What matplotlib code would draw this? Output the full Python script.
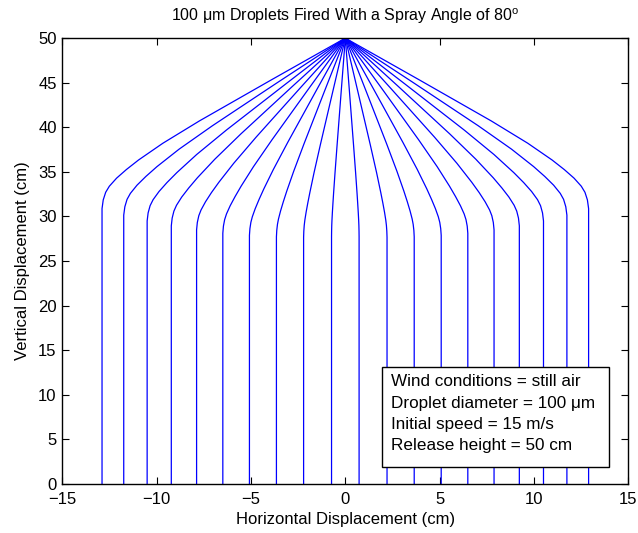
import matplotlib
matplotlib.use("Agg")
import matplotlib.pyplot as plt
from matplotlib.patches import Rectangle

plt.rcParams['font.family'] = ['Liberation Sans', 'DejaVu Sans']
plt.rcParams['mathtext.fontset'] = 'custom'
plt.rcParams['mathtext.rm'] = 'Liberation Sans'

# right half of the spray; the left half is its mirror
traj_x = [
    [0, 0.219, 0.438, 0.548, 0.621, 0.657, 0.686, 0.708, 0.719, 0.726, 0.73, 0.73],
    [0, 0.663, 1.326, 1.658, 1.879, 1.989, 2.077, 2.144, 2.177, 2.199, 2.21, 2.21],
    [0, 1.095, 2.190, 2.738, 3.103, 3.285, 3.431, 3.541, 3.595, 3.632, 3.65, 3.65],
    [0, 1.524, 3.048, 3.810, 4.318, 4.572, 4.775, 4.928, 5.004, 5.055, 5.08, 5.08],
    [0, 1.947, 3.894, 4.868, 5.517, 5.841, 6.101, 6.295, 6.393, 6.458, 6.49, 6.49],
    [0, 2.364, 4.728, 5.910, 6.698, 7.092, 7.407, 7.644, 7.762, 7.841, 7.88, 7.88],
    [0, 2.766, 5.532, 6.915, 7.837, 8.298, 8.667, 8.943, 9.082, 9.174, 9.22, 9.22],
    [0, 3.150, 6.300, 7.875, 8.925, 9.450, 9.870, 10.185, 10.343, 10.448, 10.50, 10.50],
    [0, 3.522, 7.044, 8.805, 9.979, 10.566, 11.036, 11.388, 11.564, 11.681, 11.74, 11.74],
    [0, 3.867, 7.734, 9.668, 10.957, 11.601, 12.117, 12.503, 12.697, 12.826, 12.89, 12.89],
]
traj_y = [
    [50, 44.00, 37.95, 34.83, 32.62, 31.44, 30.43, 29.56, 28.99, 28.37, 27.73, 0],
    [50, 44.02, 38.01, 34.90, 32.68, 31.50, 30.48, 29.59, 29.00, 28.35, 27.67, 0],
    [50, 44.09, 38.14, 35.05, 32.84, 31.65, 30.62, 29.72, 29.12, 28.44, 27.72, 0],
    [50, 44.18, 38.32, 35.28, 33.09, 31.90, 30.87, 29.96, 29.34, 28.63, 27.88, 0],
    [50, 44.31, 38.57, 35.58, 33.41, 32.23, 31.20, 30.29, 29.65, 28.92, 28.12, 0],
    [50, 44.47, 38.89, 35.97, 33.84, 32.68, 31.65, 30.73, 30.09, 29.33, 28.50, 0],
    [50, 44.66, 39.26, 36.42, 34.34, 33.19, 32.18, 31.26, 30.60, 29.82, 28.95, 0],
    [50, 44.87, 39.69, 36.95, 34.92, 33.80, 32.80, 31.88, 31.21, 30.40, 29.50, 0],
    [50, 45.12, 40.17, 37.55, 35.59, 34.49, 33.51, 32.59, 31.92, 31.09, 30.15, 0],
    [50, 45.38, 40.71, 38.21, 36.33, 35.26, 34.30, 33.39, 32.71, 31.86, 30.88, 0],
]

info_lines = ["Wind conditions = still air",
              "Droplet diameter = 100 \u03bcm",
              "Initial speed = 15 m/s",
              "Release height = 50 cm"]

fig = plt.figure(figsize=(6.38, 5.33), dpi=100)
ax = fig.add_axes([0.0975, 0.0919, 0.8875, 0.8366])

for xs, ys in zip(traj_x, traj_y):
    ax.plot(xs, ys, color='blue', lw=0.9)
    ax.plot([-v for v in xs], ys, color='blue', lw=0.9)

ax.set_xlim(-15, 15)
ax.set_ylim(0, 50)
ax.set_xticks(range(-15, 16, 5))
ax.set_yticks(range(0, 51, 5))
ax.set_xticklabels(['\u221215', '\u221210', '\u22125', '0', '5', '10', '15'])
ax.tick_params(direction='in', length=5, top=True, right=True, labelsize=12)
ax.tick_params(axis='x', pad=6)
ax.tick_params(axis='y', pad=4)
for s in ax.spines.values():
    s.set_linewidth(1.0)

ax.set_xlabel("Horizontal Displacement (cm)", fontsize=12, labelpad=3)
ax.set_ylabel("Vertical Displacement (cm)", fontsize=12, labelpad=6)
ax.set_title("100 \u03bcm Droplets Fired With a Spray Angle of 80$^{\\mathrm{o}}$",
             fontsize=11.5, pad=12)

ax.add_patch(Rectangle((1.93, 1.92), 12.06, 11.23, facecolor='white',
                       edgecolor='black', lw=1.0, zorder=5))
for i, t in enumerate(info_lines):
    ax.text(2.41, 11.47 - i * 2.39, t, fontsize=12.3, va='center', ha='left', zorder=6)

fig.savefig("out.png", dpi=100)
